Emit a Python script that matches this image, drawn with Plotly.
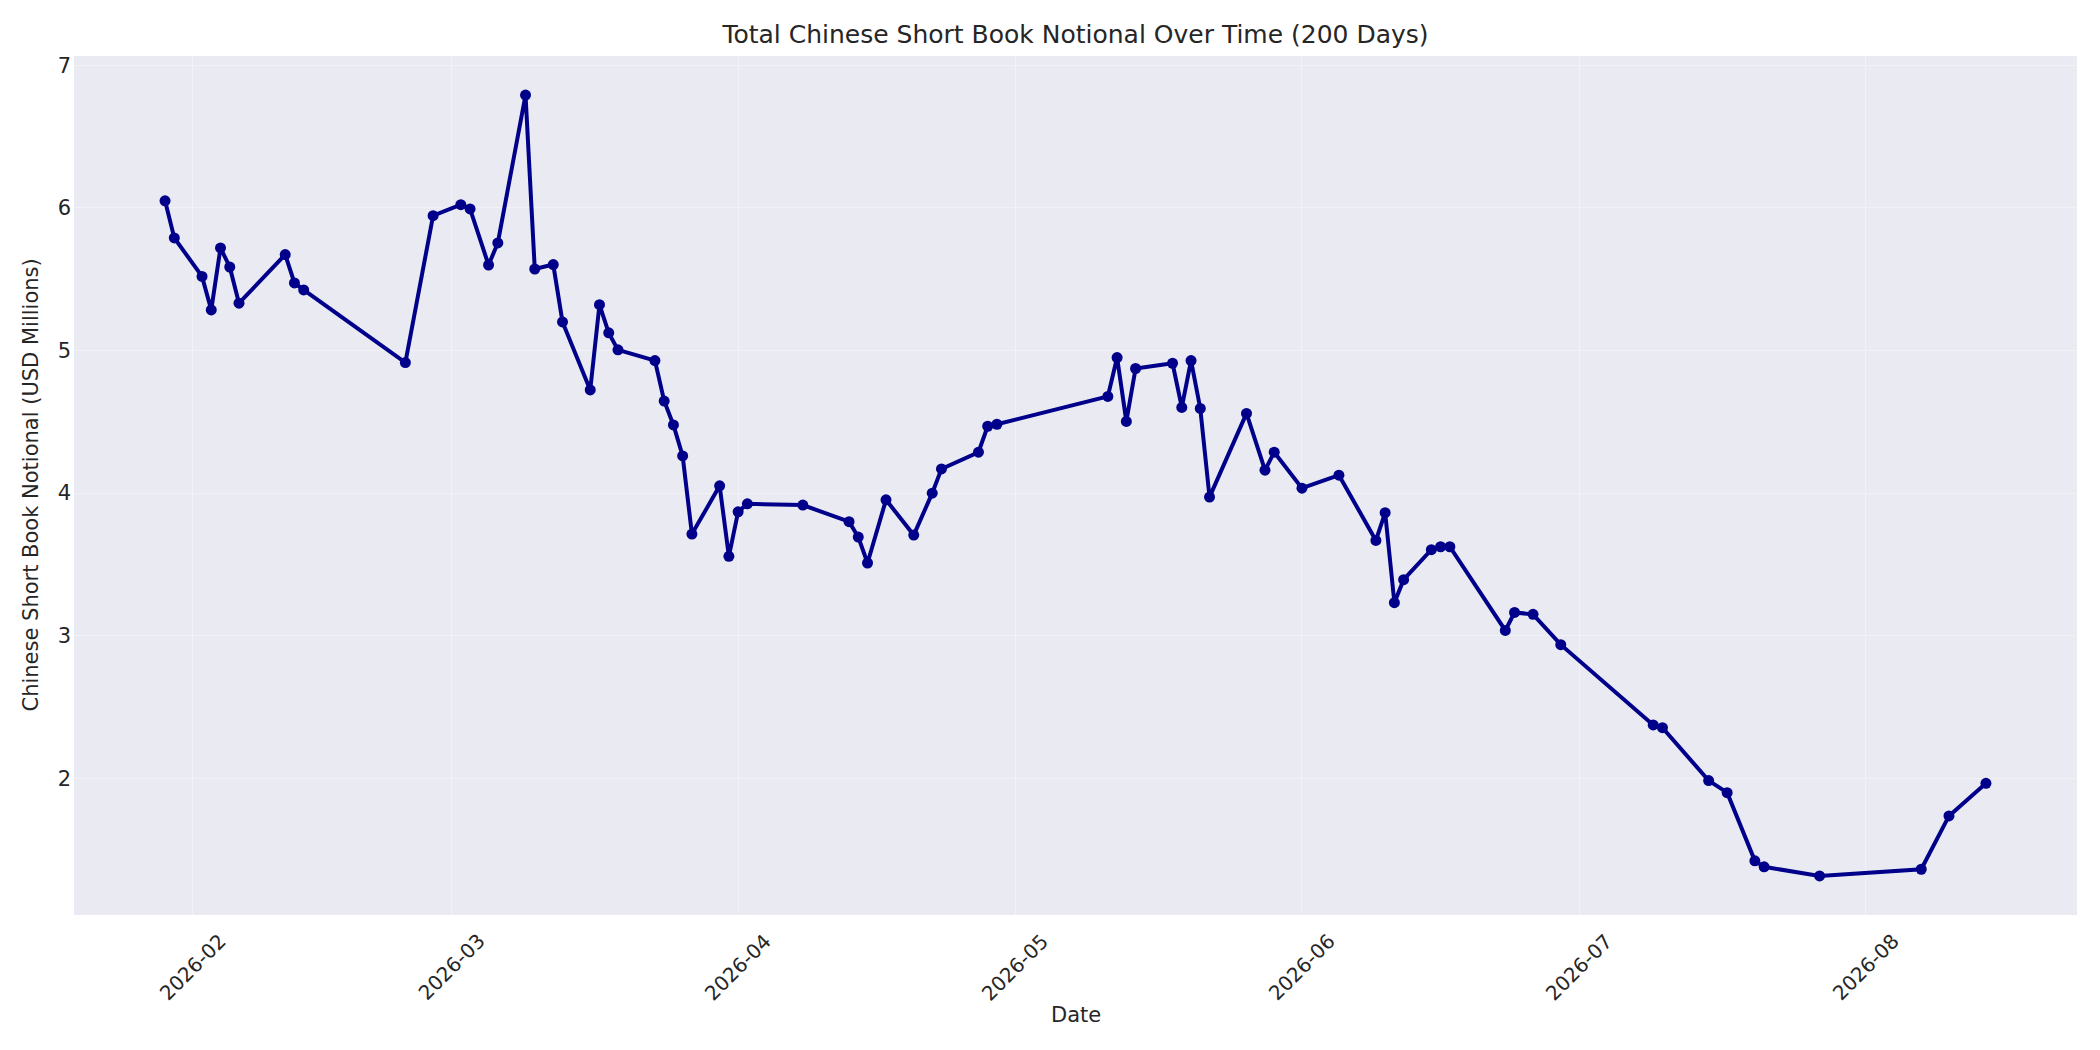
"""Total Chinese short book notional over time, drawn with Plotly."""

import pandas as pd
import plotly.graph_objects as go

# Business days that carry a reading, and the notional on each (USD millions)
dates = [
    "2026-01-29", "2026-01-30", "2026-02-02", "2026-02-03", "2026-02-04",
    "2026-02-05", "2026-02-06", "2026-02-11", "2026-02-12", "2026-02-13",
    "2026-02-24", "2026-02-27", "2026-03-02", "2026-03-03", "2026-03-05",
    "2026-03-06", "2026-03-09", "2026-03-10", "2026-03-12", "2026-03-13",
    "2026-03-16", "2026-03-17", "2026-03-18", "2026-03-19", "2026-03-23",
    "2026-03-24", "2026-03-25", "2026-03-26", "2026-03-27", "2026-03-30",
    "2026-03-31", "2026-04-01", "2026-04-02", "2026-04-08", "2026-04-13",
    "2026-04-14", "2026-04-15", "2026-04-17", "2026-04-20", "2026-04-22",
    "2026-04-23", "2026-04-27", "2026-04-28", "2026-04-29", "2026-05-11",
    "2026-05-12", "2026-05-13", "2026-05-14", "2026-05-18", "2026-05-19",
    "2026-05-20", "2026-05-21", "2026-05-22", "2026-05-26", "2026-05-28",
    "2026-05-29", "2026-06-01", "2026-06-05", "2026-06-09", "2026-06-10",
    "2026-06-11", "2026-06-12", "2026-06-15", "2026-06-16", "2026-06-17",
    "2026-06-23", "2026-06-24", "2026-06-26", "2026-06-29", "2026-07-09",
    "2026-07-10", "2026-07-15", "2026-07-17", "2026-07-20", "2026-07-21",
    "2026-07-27", "2026-08-07", "2026-08-10", "2026-08-14",
]
notional = [
    6.05, 5.79, 5.52, 5.285, 5.72,
    5.586, 5.332, 5.673, 5.474, 5.425,
    4.916, 5.946, 6.023, 5.993, 5.60,
    5.755, 6.792, 5.572, 5.603, 5.201,
    4.724, 5.322, 5.124, 5.005, 4.93,
    4.646, 4.478, 4.261, 3.713, 4.051,
    3.557, 3.869, 3.925, 3.916, 3.80,
    3.692, 3.51, 3.953, 3.706, 4.0,
    4.17, 4.287, 4.469, 4.483, 4.678,
    4.951, 4.503, 4.874, 4.911, 4.601,
    4.93, 4.594, 3.972, 4.559, 4.161,
    4.287, 4.035, 4.126, 3.668, 3.863,
    3.232, 3.393, 3.603, 3.624, 3.624,
    3.037, 3.163, 3.15, 2.937, 2.374,
    2.355, 1.984, 1.899, 1.421, 1.379,
    1.315, 1.362, 1.736, 1.965,
]

x_ticks = ["2026-02-01", "2026-03-01", "2026-04-01", "2026-05-01",
           "2026-06-01", "2026-07-01", "2026-08-01"]
x_tick_text = ["2026-02", "2026-03", "2026-04", "2026-05",
               "2026-06", "2026-07", "2026-08"]
y_ticks = [2, 3, 4, 5, 6, 7]

TEXT = "#262626"
FONT = "DejaVu Sans"
GRID = "#F1F1F6"

ts = pd.to_datetime(pd.Series(dates))
x_pad = (ts.max() - ts.min()) * 0.05
y_pad = (max(notional) - min(notional)) * 0.05

fig = go.Figure()
fig.add_trace(
    go.Scatter(
        x=ts,
        y=notional,
        mode="lines+markers",
        line=dict(color="#00008B", width=4),
        marker=dict(color="#00008B", size=11),
        showlegend=False,
    )
)

# month labels, rotated and centred under their gridline
for tv, tt in zip(x_ticks, x_tick_text):
    fig.add_annotation(
        x=tv, y=0, xref="x", yref="paper",
        text=tt, showarrow=False, textangle=-45,
        xanchor="center", yanchor="top", yshift=-11,
        font=dict(family=FONT, size=20, color=TEXT),
    )

fig.add_annotation(
    x=0.5, y=0, xref="paper", yref="paper",
    text="Date", showarrow=False,
    xanchor="center", yanchor="middle", yshift=-100,
    font=dict(family=FONT, size=21, color=TEXT),
)
fig.add_annotation(
    x=0, y=0.5, xref="paper", yref="paper",
    text="Chinese Short Book Notional (USD Millions)", showarrow=False,
    textangle=-90, xanchor="center", yanchor="middle", xshift=-44,
    font=dict(family=FONT, size=21, color=TEXT),
)

fig.update_layout(
    width=2100,
    height=1050,
    margin=dict(l=74, r=23, t=56, b=135),
    paper_bgcolor="white",
    plot_bgcolor="#EAEAF2",
    font=dict(family=FONT, size=20, color=TEXT),
    title=dict(
        text="Total Chinese Short Book Notional Over Time (200 Days)",
        x=0.5, xref="paper", xanchor="center",
        y=1 - 34 / 1050, yanchor="middle",
        font=dict(family=FONT, size=25, color=TEXT),
    ),
    xaxis=dict(
        range=[ts.min() - x_pad, ts.max() + x_pad],
        tickvals=x_ticks,
        showticklabels=False,
        showgrid=True,
        gridcolor=GRID,
        gridwidth=1.3,
        zeroline=False,
        showline=False,
        ticks="",
    ),
    yaxis=dict(
        range=[min(notional) - y_pad, max(notional) + y_pad],
        tickvals=y_ticks,
        showgrid=True,
        gridcolor=GRID,
        gridwidth=1.3,
        zeroline=False,
        showline=False,
        ticks="",
        ticklen=0,
        ticklabelstandoff=2,
        tickfont=dict(family=FONT, size=21, color=TEXT),
    ),
)

# drop the browser's default body margin so the figure sits at the page origin
fig.write_html(
    "out.html",
    config={"displayModeBar": False},
    post_script="document.body.style.margin='0';",
)
